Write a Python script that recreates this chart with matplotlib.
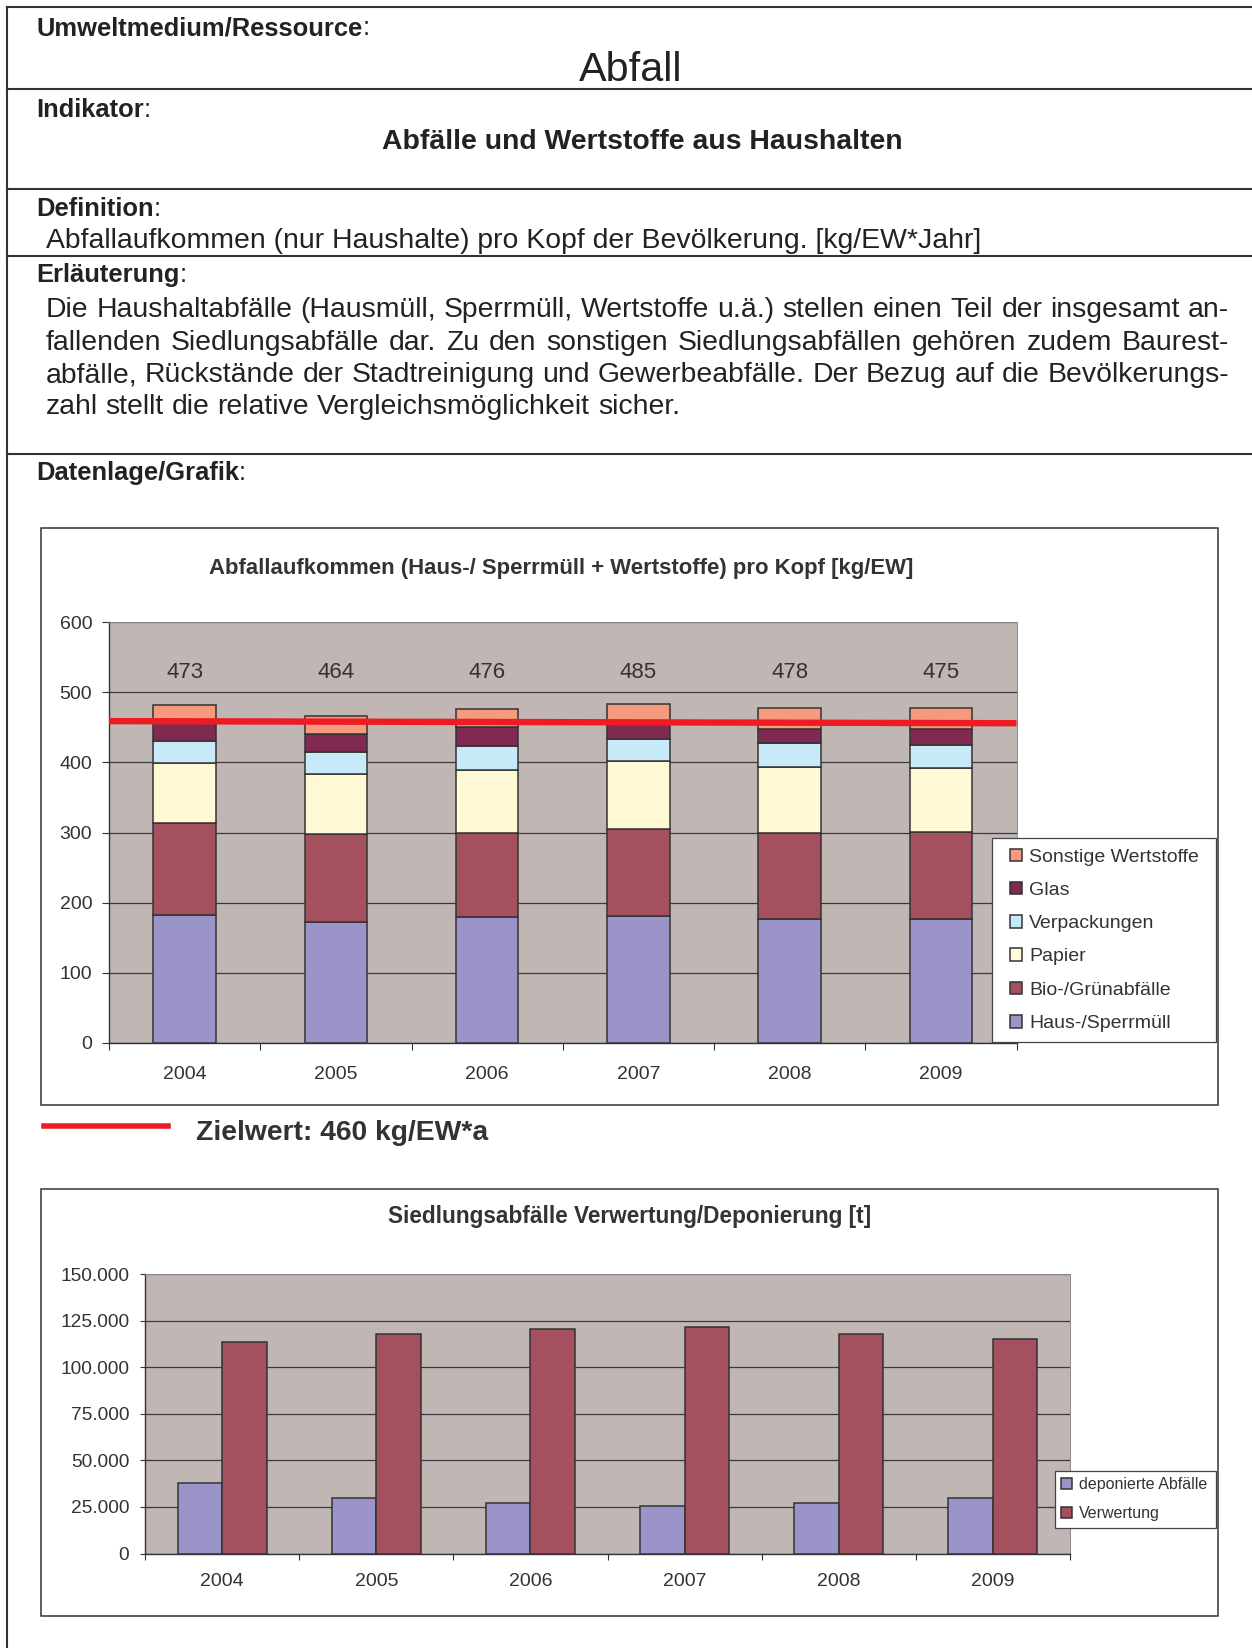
import numpy as np
import matplotlib
matplotlib.use("Agg")
import matplotlib.pyplot as plt
from matplotlib.lines import Line2D
from matplotlib.patches import Rectangle
from matplotlib.ticker import FuncFormatter, MultipleLocator

plt.rcParams['font.family'] = ['Liberation Sans', 'DejaVu Sans']

# ---------------- data ----------------
years = ['2004', '2005', '2006', '2007', '2008', '2009']
haus_sperrmuell = [183, 173, 179, 181, 177, 177]
bio_gruen = [130, 125, 120, 124, 122, 124]
papier = [86, 86, 90, 97, 95, 91]
verpackungen = [32, 31, 34, 32, 34, 33]
glas = [28, 25, 27, 25, 20, 23]
sonstige = [23, 26, 26, 25, 30, 30]
total_labels = [473, 464, 476, 485, 478, 475]
zielwert_line = [459, 456]          # red target line as drawn (left end, right end)

series_names = ['Haus-/Sperrmüll', 'Bio-/Grünabfälle', 'Papier', 'Verpackungen',
                'Glas', 'Sonstige Wertstoffe']
series_colors = ['#9A94C8', '#A5505E', '#FFF9D6', '#C8E9F7', '#802A52', '#F59A7C']

deponiert = [38000, 30000, 27200, 25600, 27200, 30000]
verwertung = [113800, 118100, 120400, 121900, 117900, 115200]
bottom_names = ['deponierte Abfälle', 'Verwertung']
bottom_colors = ['#9A94C8', '#A5505E']

# ---------------- figure ----------------
W, H = 1252, 1648
fig = plt.figure(figsize=(W / 100, H / 100), dpi=100)
fig.patch.set_facecolor('white')
r = fig.canvas.get_renderer()


def fx(px):
    return px / W


def fy(py):
    return 1 - py / H


TXT = '#222222'
CTXT = '#333333'


def fit_text(x, y, s, width_px, **kw):
    t = fig.text(fx(x), fy(y), s, fontsize=10, **kw)
    w = t.get_window_extent(r).width
    t.set_fontsize(10 * width_px / w)
    return t


def label(x, yb, name, fs):
    t = fig.text(fx(x), fy(yb), name, fontsize=fs, fontweight='bold', color=TXT, va='baseline')
    w = t.get_window_extent(r).width
    fig.text(fx(x + w), fy(yb), ':', fontsize=fs, color=TXT, va='baseline')


# page frame lines
for yy in [7.3, 89.3, 189.3, 256.0, 454.3]:
    fig.add_artist(Line2D([fx(7), 1.0], [fy(yy), fy(yy)], color='#333333', lw=1.5))
fig.add_artist(Line2D([fx(7), fx(7)], [fy(7.3), 0.0], color='#333333', lw=1.5))

# label font size fitted
tmp = fig.text(0, 0, 'Umweltmedium/Ressource:', fontsize=10, fontweight='bold')
lab_fs = 10 * 335 / tmp.get_window_extent(r).width
tmp.remove()

label(36, 35, 'Umweltmedium/Ressource', lab_fs)
fit_text(631, 80.7, 'Abfall', 104, ha='center', va='baseline', color=TXT)
label(36, 116.7, 'Indikator', lab_fs)
fit_text(642, 149.3, 'Abfälle und Wertstoffe aus Haushalten', 520.6, ha='center',
         va='baseline', color=TXT, fontweight='bold')
label(36, 216, 'Definition', lab_fs)
deft = fit_text(45.5, 248.3,
                'Abfallaufkommen (nur Haushalte) pro Kopf der Bevölkerung. [kg/EW*Jahr]',
                936.5, va='baseline', color=TXT)
body_fs = deft.get_fontsize()
label(36, 281.7, 'Erläuterung', lab_fs)

para = ['Die Haushaltabfälle (Hausmüll, Sperrmüll, Wertstoffe u.ä.) stellen einen Teil der insgesamt an-',
        'fallenden Siedlungsabfälle dar. Zu den sonstigen Siedlungsabfällen gehören zudem Baurest-',
        'abfälle, Rückstände der Stadtreinigung und Gewerbeabfälle. Der Bezug auf die Bevölkerungs-',
        'zahl stellt die relative Vergleichsmöglichkeit sicher.']
baselines = [317, 349.5, 382, 414]
x0, x1 = 45.5, 1229
for i, (line, yb) in enumerate(zip(para, baselines)):
    words = line.split(' ')
    ts = [fig.text(0, fy(yb), w, fontsize=body_fs, color=TXT, va='baseline') for w in words]
    ws = [t.get_window_extent(r).width for t in ts]
    if i < len(para) - 1:
        gap = (x1 - x0 - sum(ws)) / (len(words) - 1)
    else:
        gap = body_fs * 0.278 * 100 / 72
    x = x0
    for t, w in zip(ts, ws):
        t.set_x(fx(x))
        x += w + gap

label(36, 480, 'Datenlage/Grafik', lab_fs)

# ---------------- top chart ----------------
fig.add_artist(Rectangle((fx(41), fy(1105.3)), fx(1217.7) - fx(41), fy(528.3) - fy(1105.3),
                         fill=False, edgecolor='#333333', lw=1.1))
fit_text(561, 574, 'Abfallaufkommen (Haus-/ Sperrmüll + Wertstoffe) pro Kopf [kg/EW]', 704,
         ha='center', va='baseline', color=CTXT, fontweight='bold')

ax1 = fig.add_axes([fx(109), fy(1042.8), fx(1016.5) - fx(109), fy(622.3) - fy(1042.8)])
ax1.set_facecolor('#C0B7B5')
xpos = np.arange(len(years))
stack = [haus_sperrmuell, bio_gruen, papier, verpackungen, glas, sonstige]
bottom = np.zeros(len(years))
for vals, name, col in zip(stack, series_names, series_colors):
    ax1.bar(xpos, vals, width=0.413, bottom=bottom, color=col, edgecolor='#333333',
            lw=1.1, label=name, zorder=3)
    bottom += np.array(vals)
for xp, lab in zip(xpos, total_labels):
    ax1.text(xp, 520, str(lab), ha='center', va='baseline', fontsize=16, color=CTXT)
ax1.set_xlim(-0.5, len(years) - 0.5)
ax1.plot(list(ax1.get_xlim()), zielwert_line, color='#ED1C24', lw=4.6, zorder=5,
         solid_capstyle='butt')
ax1.set_xlim(-0.5, len(years) - 0.5)
ax1.set_ylim(0, 600)
ax1.yaxis.set_major_locator(MultipleLocator(100))
ax1.yaxis.grid(True, color='#3a3a3a', lw=0.9)
ax1.set_axisbelow(True)
ax1.set_xticks(xpos)
ax1.set_xticklabels(years)
ax1.set_xticks(np.arange(-0.5, len(years)), minor=True)
ax1.tick_params(axis='x', which='major', length=0, pad=16.5, labelsize=14, labelcolor=CTXT)
ax1.tick_params(axis='x', which='minor', length=5, width=0.8, color='#333333')
ax1.tick_params(axis='y', length=5.3, width=0.8, pad=6.8, labelsize=14, color='#333333',
                labelcolor=CTXT)
for s in ['left', 'bottom']:
    ax1.spines[s].set_color('#333333')
    ax1.spines[s].set_linewidth(1.0)
for s in ['top', 'right']:
    ax1.spines[s].set_color('#8a8a8a')
    ax1.spines[s].set_linewidth(0.7)

# top legend (box + entries)
fig.add_artist(Rectangle((fx(992), fy(1042)), fx(1216) - fx(992), fy(838) - fy(1042),
                         facecolor='white', edgecolor='#444444', lw=0.9, zorder=10))
h1, l1 = ax1.get_legend_handles_labels()
leg1 = fig.legend(h1[::-1], l1[::-1], loc='upper left',
                  bbox_to_anchor=(fx(1010), fy(848.5)), frameon=False, fontsize=14,
                  borderpad=0, borderaxespad=0, handlelength=0.62, handleheight=0.62,
                  handletextpad=0.36, labelspacing=0.83, labelcolor=CTXT)
leg1.set_zorder(11)

# Zielwert key
fig.add_artist(Line2D([fx(44), fx(168)], [fy(1126), fy(1126)], color='#ED1C24', lw=4.0))
fit_text(195.7, 1140, 'Zielwert: 460 kg/EW*a', 293.3, va='baseline', color=CTXT,
         fontweight='bold')

# ---------------- bottom chart ----------------
fig.add_artist(Rectangle((fx(41), fy(1615.7)), fx(1217.7) - fx(41), fy(1189) - fy(1615.7),
                         fill=False, edgecolor='#333333', lw=1.1))
fit_text(630, 1223, 'Siedlungsabfälle Verwertung/Deponierung [t]', 485, ha='center',
         va='baseline', color=CTXT, fontweight='bold')

ax2 = fig.add_axes([fx(145), fy(1553.5), fx(1070) - fx(145), fy(1274.3) - fy(1553.5)])
ax2.set_facecolor('#C0B7B5')
bw = 0.289
for k, (vals, name, col) in enumerate(zip([deponiert, verwertung], bottom_names, bottom_colors)):
    ax2.bar(xpos + (k - 0.5) * bw, vals, width=bw, color=col, edgecolor='#333333', lw=1.1,
            label=name, zorder=3)
ax2.set_xlim(-0.5, len(years) - 0.5)
ax2.set_ylim(0, 150000)
ax2.yaxis.set_major_locator(MultipleLocator(25000))
ax2.yaxis.set_major_formatter(FuncFormatter(lambda v, p: f'{int(v):,}'.replace(',', '.')))
ax2.yaxis.grid(True, color='#3a3a3a', lw=0.9)
ax2.set_axisbelow(True)
ax2.set_xticks(xpos)
ax2.set_xticklabels(years)
ax2.set_xticks(np.arange(-0.5, len(years)), minor=True)
ax2.tick_params(axis='x', which='major', length=0, pad=14, labelsize=14, labelcolor=CTXT)
ax2.tick_params(axis='x', which='minor', length=4, width=0.8, color='#333333')
ax2.tick_params(axis='y', length=3.6, width=0.8, pad=7.7, labelsize=13.8, color='#333333',
                labelcolor=CTXT)
for s in ['left', 'bottom']:
    ax2.spines[s].set_color('#333333')
    ax2.spines[s].set_linewidth(1.0)
for s in ['top', 'right']:
    ax2.spines[s].set_color('#8a8a8a')
    ax2.spines[s].set_linewidth(0.7)

fig.add_artist(Rectangle((fx(1055), fy(1528)), fx(1216) - fx(1055), fy(1471) - fy(1528),
                         facecolor='white', edgecolor='#444444', lw=0.9, zorder=10))
h2, l2 = ax2.get_legend_handles_labels()
leg2 = fig.legend(h2, l2, loc='upper left', bbox_to_anchor=(fx(1061), fy(1477)),
                  frameon=False, fontsize=11.5, borderpad=0, borderaxespad=0,
                  handlelength=0.7, handleheight=0.7, handletextpad=0.4, labelspacing=0.9,
                  labelcolor=CTXT)
leg2.set_zorder(11)

fig.savefig('out.png', dpi=100, facecolor='white')
